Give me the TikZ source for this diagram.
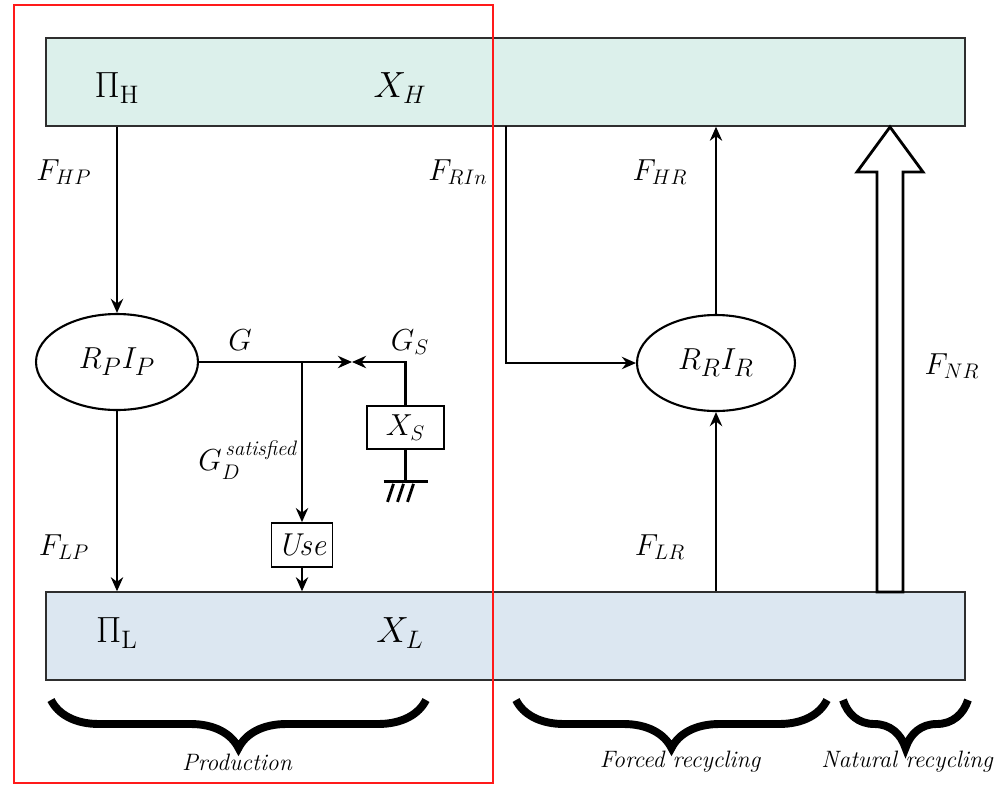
\documentclass[tikz,border=0pt]{standalone}
\usepackage{amsmath}
\usepackage{tikz}
\usetikzlibrary{positioning,shapes.geometric,calc,decorations.pathreplacing,arrows.meta}
\definecolor{FrameRed}{HTML}{FF1A1A}
\definecolor{HighFill}{HTML}{DCF0EB}
\definecolor{LowFill}{HTML}{DCE7F1}
\definecolor{BarLine}{HTML}{2E2E2E}
\tikzset{
  barnode/.style={draw=BarLine,line width=0.8pt,minimum width=18.38cm,minimum height=1.76cm,inner sep=0pt},
  procnode/.style={ellipse,draw,line width=1.2pt,minimum width=3.24cm,minimum height=1.92cm,
    inner sep=0pt,font=\fontsize{19}{22}\selectfont},
  boxnode/.style={draw,line width=1pt,minimum width=1.22cm,minimum height=0.88cm,
    inner sep=0pt,font=\fontsize{18}{21}\selectfont},
  flowlbl/.style={font=\fontsize{17}{20}\selectfont,inner sep=1pt},
  barlbl/.style={font=\fontsize{22}{26}\selectfont,inner sep=1pt},
  bracelbl/.style={font=\fontsize{13.5}{16}\selectfont\itshape,inner sep=1pt},
  flow/.style={line width=1.3pt,-{Stealth[length=8pt,width=7pt]}},
  wire/.style={line width=1.3pt},
  bigflow/.style={line width=1.6pt,fill=white,line join=miter},
  bracepath/.style={decorate,decoration={brace,mirror,amplitude=0.96cm},line width=4.5pt},
}
\begin{document}
\begin{tikzpicture}[x=0.02cm,y=-0.02cm]
  \useasboundingbox (0,0) rectangle (1000,785);
  \node[barnode,fill=HighFill] (hbar) at (505.5,82) {};
  \node[barnode,fill=LowFill] (lbar) at (505.5,636) {};
  \node[barlbl] (pih) at (117,88) {$\Pi_{\mathrm{H}}$};
  \node[barlbl] (xh) at (400,88) {$X_H$};
  \node[barlbl] (pil) at (117,633) {$\Pi_{\mathrm{L}}$};
  \node[barlbl] (xl) at (400,633) {$X_L$};
  \node[procnode] (rp) at (117,362) {$R_PI_P$};
  \node[procnode,minimum width=3.16cm] (rr) at (716,363) {$R_RI_R$};
  \node[boxnode] (use) at (302,545) {\textit{Use}};
  \node[boxnode,minimum width=1.54cm,minimum height=0.86cm] (xs) at (405.5,427.5) {$X_S$};
  \coordinate (join) at (302,362);
  \coordinate (meet) at (352,362);
  \coordinate (rin) at (506,126);
  \coordinate (nrlo) at (890,592);
  \coordinate (nrhi) at (890,127);
  \draw[flow] (hbar.south -| rp) -- (rp.north);
  \draw[flow] (rp.south) -- (rp.south |- lbar.north);
  \draw[flow] (rp.east) -- (meet);
  \draw[flow] (xs.north) |- (meet);
  \draw[flow] (join) -- (use.north);
  \draw[flow] (use.south) -- (use.south |- lbar.north);
  \draw[wire] (xs.south) -- ++(0,32) coordinate (gnd);
  \draw[wire,line width=1.8pt] ($(gnd)+(-22,0)$) -- ($(gnd)+(22,0)$);
  \foreach \dx in {-12,-2,8} \draw[wire,line width=1.6pt] ($(gnd)+(\dx,2)$) -- ++(-6,18);
  \draw[flow] (rin) |- (rr.west);
  \draw[flow] (rr.north) -- (rr.north |- hbar.south);
  \draw[flow] (rr.south |- lbar.north) -- (rr.south);
  \draw[bigflow] ($(nrlo)+(-13,0)$) -- ($(nrhi)+(-13,45)$) -- ($(nrhi)+(-33,45)$) -- (nrhi)
    -- ($(nrhi)+(33,45)$) -- ($(nrhi)+(13,45)$) -- ($(nrlo)+(13,0)$) -- cycle;
  \node[flowlbl] (fhp) at (64,172) {$F_{HP}$};
  \node[flowlbl] (flp) at (64,547) {$F_{LP}$};
  \node[flowlbl] (frin) at (458,172) {$F_{RIn}$};
  \node[flowlbl] (fhr) at (660,172) {$F_{HR}$};
  \node[flowlbl] (flr) at (660,547) {$F_{LR}$};
  \node[flowlbl] (fnr) at (952,366) {$F_{NR}$};
  \node[flowlbl] (glbl) at (240,340) {$G$};
  \node[flowlbl] (gslbl) at (410,342) {$G_S$};
  \node[flowlbl,anchor=east] (gdlbl) at (299,460) {$G_D^{\,\textit{satisfied}}$};
  \draw[FrameRed,line width=1.3pt] (14,5) rectangle (493,783);
  \draw[bracepath] (51,700) -- (426,700);
  \draw[bracepath] (516,700) -- (827,700);
  \draw[bracepath] (843,700) -- (968,700);
  \node[bracelbl] (prod) at (237,762) {Production};
  \node[bracelbl] (forced) at (680,762) {Forced recycling};
  \node[bracelbl] (natural) at (907,762) {Natural recycling};
\end{tikzpicture}
\end{document}
